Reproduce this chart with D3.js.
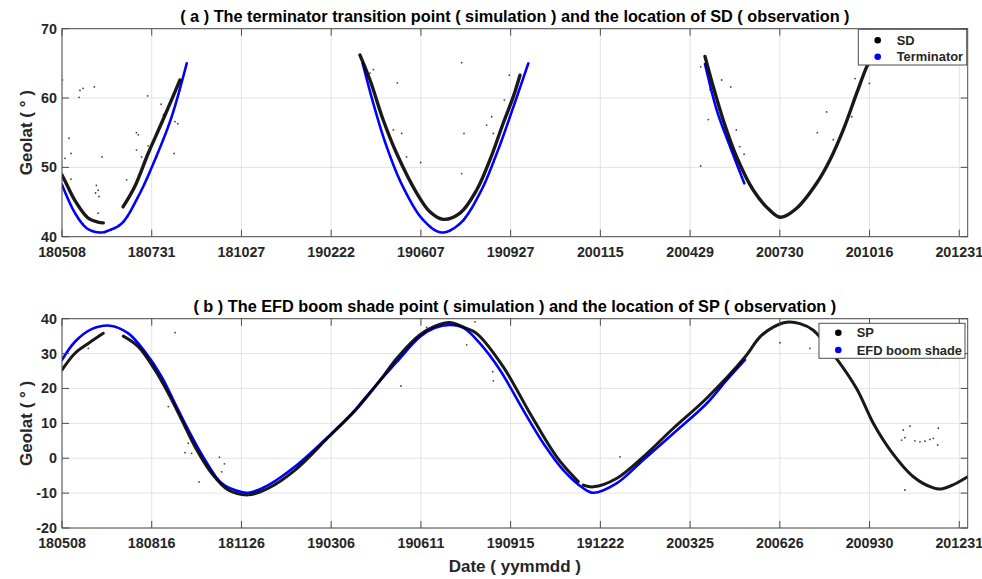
<!DOCTYPE html>
<html>
<head>
<meta charset="utf-8">
<script src="https://cdn.jsdelivr.net/npm/d3@7"></script>
<style>
  html, body { margin: 0; padding: 0; background: #fff; }
  svg { display: block; font-family: "Liberation Sans", Arial, Helvetica, sans-serif; }
</style>
</head>
<body>
<svg id="chart" width="982" height="579"></svg>
<script>
// ---- x axis: sample index, one tick every 100 samples ----
const xTicks = [0, 100, 200, 300, 400, 500, 600, 700, 800, 900, 1000];
const xTickLabelsA = ["180508","180731","181027","190222","190607","190927","200115","200429","200730","201016","201231"];
const xTickLabelsB = ["180508","180816","181126","190306","190611","190915","191222","200325","200626","200930","201231"];
const yTicksA = [40, 50, 60, 70];
const yTicksB = [-20, -10, 0, 10, 20, 30, 40];

// ---- panel (a): SD observations (dense band), in segments ----
const sdSeg1X = [0, 5, 14.5, 29, 40, 46];
const sdSeg1Y = [48.9, 47.6, 45.2, 42.7, 42.1, 42.0];
const sdSeg2X = [68, 81, 96, 111, 122, 131.5];
const sdSeg2Y = [44.3, 47.2, 52.0, 56.4, 59.7, 62.6];
const sdSeg3X = [332.1, 343.3, 358.1, 373, 395.3, 410, 425, 443.6, 462, 477, 491.8, 503, 510.4];
const sdSeg3Y = [66.2, 62.6, 56.8, 52.0, 46.3, 43.6, 42.5, 43.4, 46.7, 51.1, 56.4, 60.2, 63.3];
const sdSeg4X = [716.6, 725.9, 737, 751.9, 770.5, 789, 801, 818.8, 841, 856, 870.7, 885.7, 896.8, 903];
const sdSeg4Y = [66.0, 61.6, 56.8, 51.5, 46.7, 43.8, 42.8, 44.1, 47.7, 51.1, 55.4, 60.7, 64.5, 66.0];

// ---- panel (a): simulated terminator transition point ----
const termSeg1X = [0, 14.5, 29, 44, 52, 66.5, 85, 103.6, 122.2, 139];
const termSeg1Y = [47.5, 43.4, 41.1, 40.6, 40.9, 41.9, 45.8, 51.1, 57.3, 65.0];
const termSeg2X = [335.1, 347, 361.8, 380, 402.7, 423, 443.6, 465.8, 484.5, 503, 519.7];
const termSeg2Y = [65.0, 59.2, 53.0, 47.2, 42.4, 40.6, 41.9, 46.3, 52.0, 58.7, 65.0];
const termSeg3X = [716.6, 729.6, 744.5, 760.4];
const termSeg3Y = [64.9, 58.3, 53.0, 47.7];

// ---- panel (a): scattered SD outliers ----
const sdOutX = [0.3, 20, 19, 23.5, 36, 7.8, 10, 3.3, 44.6, 10, 38.4, 40.3, 37.4, 41.2, 40.3, 72, 83, 85, 83, 88.8, 95.5, 110.5, 113, 126, 129, 125, 105.5, 96,
  373.7, 378.6, 369.3, 384, 399.7, 445.4, 448, 445.4, 473.3, 478.9, 498.5, 480.7, 347, 343.3, 493,
  711.8, 720.3, 711.8, 745.3, 735.2, 751.5, 755.3, 760.2,
  852.2, 841.8, 859.6, 880.1, 899.8, 883.9, 722.2];
const sdOutY = [62.6, 61.1, 60.1, 61.4, 61.6, 54.2, 52.0, 51.3, 51.5, 48.3, 47.4, 46.7, 46.3, 45.8, 43.4, 48.2, 55.0, 54.7, 52.5, 51.5, 60.3, 59.1, 57.6, 56.6, 56.3, 52.0, 51.5, 53.1,
  62.2, 54.9, 55.4, 51.5, 50.7, 65.1, 54.9, 49.1, 56.1, 57.3, 63.3, 54.9, 64.1, 63.6, 59.7,
  64.5, 56.9, 50.2, 61.6, 62.6, 55.4, 53.0, 51.9,
  58.0, 55.0, 54.0, 57.3, 62.1, 62.8, 61.2];

// ---- panel (b): SP observations (dense band), in segments ----
const spSeg1X = [0, 14.5, 29.3, 46];
const spSeg1Y = [25.3, 30.1, 32.9, 35.8];
const spSeg2X = [68.3, 85, 103.6, 118.5, 133.4, 148.2, 166.8, 185.3, 207.6, 230, 259.7, 296.8, 326.5, 355, 373, 399, 415, 432, 448, 462, 491.8, 521.5, 551.3, 575.4];
const spSeg2Y = [35.0, 32.0, 25.3, 18.6, 11.0, 3.3, -4.3, -9.1, -10.5, -8.6, -3.4, 6.0, 13.6, 22.5, 28.6, 35.4, 37.8, 38.9, 37.5, 35.8, 26.2, 12.9, 0.4, -6.7];
const spSeg3X = [581, 592, 618, 647.8, 681.3, 718.5, 761.2, 777.9, 792.7, 807.6, 822.5, 837.3, 863.4, 885.7, 904.2, 922.8, 948.8, 971.1, 980, 993.4, 1009.4];
const spSeg3Y = [-7.7, -8.2, -5.8, 0.4, 8.6, 17.2, 29.0, 34.8, 37.6, 39.0, 38.6, 36.7, 28.5, 19.9, 10.0, 2.4, -5.3, -8.5, -8.8, -7.6, -5.3];

// ---- panel (b): simulated EFD boom shade point ----
const efdX = [0, 14.5, 33, 53.5, 73.9, 92.5, 111, 126, 140.8, 159.4, 178, 200, 209.5, 230, 259.7, 296.8, 326.5, 335.8, 373, 399, 415, 432.4, 448, 465.8, 488.1, 514, 536.4, 558.7, 581, 592.1, 618, 647.8, 681.3, 718.5, 740.8, 761.2];
const efdY = [28.2, 33.4, 37.0, 38.0, 35.8, 30.5, 23.4, 15.7, 8.1, -0.5, -7.2, -9.7, -9.8, -7.7, -2.4, 6.2, 13.8, 16.7, 27.6, 34.8, 37.3, 38.2, 37.3, 32.9, 25.3, 13.8, 4.3, -3.4, -8.6, -9.9, -7.2, -0.5, 7.1, 15.7, 22.4, 28.2];

// ---- panel (b): scattered SP outliers ----
const spOutX = [937.6, 945, 939.4, 935.7, 950.6, 956.2, 961.7, 967.3, 971.1, 976.6, 976, 939.4, 800.1, 833.5,
  460.3, 451, 480, 480.7, 377.8, 621.9, 406.4, 126, 29.3, 118.5, 140.8, 137.1, 144.5, 152.7, 175.5, 181, 178];
const spOutY = [8.1, 9.2, 5.9, 5.2, 5.0, 4.7, 4.9, 5.4, 5.7, 8.6, 3.8, -9.1, 33.1, 31.5,
  39.1, 32.5, 24.8, 22.2, 20.7, 0.4, 37.5, 36.0, 31.5, 14.8, 4.3, 1.6, 1.4, -6.8, 0.3, -1.6, -3.9];

// ---- legend entries ----
const legendA = [{ name: "SD", color: "#000000" }, { name: "Terminator", color: "#0000ff" }];
const legendB = [{ name: "SP", color: "#000000" }, { name: "EFD boom shade", color: "#0000ff" }];

const svg = d3.select("#chart");
const textColor = "#262626";
const gridColor = "#e3e3e3";
const boxColor = "#4d4d4d";

const plotLeft = 62, plotRight = 967.7;
const x = d3.scaleLinear().domain([0, 1009.4]).range([plotLeft, plotRight]);

function zipXY(xs, ys) { return xs.map((v, i) => [v, ys[i]]); }

function drawPanel(cfg) {
  const { top, bottom, yDomain, yTicks, tickLabels, title, clipId } = cfg;
  const y = d3.scaleLinear().domain(yDomain).range([bottom, top]);
  const g = svg.append("g");

  g.append("clipPath").attr("id", clipId)
    .append("rect").attr("x", plotLeft).attr("y", top)
    .attr("width", plotRight - plotLeft).attr("height", bottom - top);

  // background grid
  g.append("g").selectAll("line").data(xTicks).join("line")
    .attr("x1", d => x(d)).attr("x2", d => x(d))
    .attr("y1", top).attr("y2", bottom)
    .attr("stroke", gridColor).attr("stroke-width", 1);
  g.append("g").selectAll("line").data(yTicks).join("line")
    .attr("x1", plotLeft).attr("x2", plotRight)
    .attr("y1", d => y(d)).attr("y2", d => y(d))
    .attr("stroke", gridColor).attr("stroke-width", 1);

  const data = g.append("g").attr("clip-path", `url(#${clipId})`);
  const line = d3.line().x(d => x(d[0])).y(d => y(d[1])).curve(d3.curveCatmullRom.alpha(0.5));

  // observation outliers
  data.append("g").selectAll("circle").data(cfg.outliers).join("circle")
    .attr("cx", d => x(d[0])).attr("cy", d => y(d[1])).attr("r", 0.9)
    .attr("fill", "#444");

  // simulation (blue)
  cfg.simSegs.forEach(seg => {
    data.append("path").attr("d", line(seg))
      .attr("fill", "none").attr("stroke", "#0000ff")
      .attr("stroke-width", cfg.simWidth)
      .attr("stroke-dasharray", cfg.simDash || null)
      .attr("stroke-linecap", "round");
  });

  // observation band (black)
  cfg.obsSegs.forEach(seg => {
    data.append("path").attr("d", line(seg))
      .attr("fill", "none").attr("stroke", "#000")
      .attr("stroke-opacity", 0.9)
      .attr("stroke-width", cfg.obsWidth)
      .attr("stroke-linecap", "round");
  });

  // axes box
  g.append("rect").attr("x", plotLeft).attr("y", top)
    .attr("width", plotRight - plotLeft).attr("height", bottom - top)
    .attr("fill", "none").attr("stroke", boxColor).attr("stroke-width", 1);

  // inward ticks on all four sides
  const tl = 7;
  const ticks = g.append("g").attr("stroke", boxColor).attr("stroke-width", 1);
  xTicks.forEach(t => {
    ticks.append("line").attr("x1", x(t)).attr("x2", x(t)).attr("y1", bottom).attr("y2", bottom - tl);
    ticks.append("line").attr("x1", x(t)).attr("x2", x(t)).attr("y1", top).attr("y2", top + tl);
  });
  yTicks.forEach(t => {
    ticks.append("line").attr("x1", plotLeft).attr("x2", plotLeft + tl).attr("y1", y(t)).attr("y2", y(t));
    ticks.append("line").attr("x1", plotRight).attr("x2", plotRight - tl).attr("y1", y(t)).attr("y2", y(t));
  });

  // tick labels
  g.append("g").selectAll("text").data(xTicks).join("text")
    .attr("x", d => x(d)).attr("y", bottom + 20)
    .attr("text-anchor", "middle").attr("font-size", 14.3).attr("font-weight", "bold")
    .attr("fill", textColor).text((d, i) => tickLabels[i]);
  g.append("g").selectAll("text").data(yTicks).join("text")
    .attr("x", plotLeft - 5).attr("y", d => y(d) + 5)
    .attr("text-anchor", "end").attr("font-size", 14.3).attr("font-weight", "bold")
    .attr("fill", textColor).text(d => d);

  // y axis label
  g.append("text")
    .attr("transform", `translate(32,${(top + bottom) / 2}) rotate(-90)`)
    .attr("text-anchor", "middle").attr("font-size", 17).attr("font-weight", "bold")
    .attr("fill", textColor).text("Geolat ( ° )");

  // title
  g.append("text").attr("x", (plotLeft + plotRight) / 2).attr("y", top - 7)
    .attr("text-anchor", "middle").attr("font-size", 16.3).attr("font-weight", "bold")
    .attr("fill", "#000").text(title);

  // legend
  const lg = g.append("g");
  const L = cfg.legend;
  lg.append("rect").attr("x", L.x0).attr("y", L.y0).attr("width", L.x1 - L.x0).attr("height", L.y1 - L.y0)
    .attr("fill", "#fff").attr("stroke", boxColor).attr("stroke-width", 1);
  L.items.forEach((it, i) => {
    const cy = L.y0 + L.rowStart + i * L.rowGap;
    lg.append("circle").attr("cx", L.markerX).attr("cy", cy).attr("r", 3.3).attr("fill", it.color);
    lg.append("text").attr("x", L.textX).attr("y", cy + 4.5)
      .attr("font-size", 12.9).attr("font-weight", "bold").attr("fill", textColor).text(it.name);
  });
  return y;
}

drawPanel({
  top: 28.7, bottom: 236.7, yDomain: [40, 70], yTicks: yTicksA, tickLabels: xTickLabelsA,
  title: "( a ) The terminator transition point ( simulation ) and the location of SD ( observation )",
  clipId: "clipA",
  outliers: zipXY(sdOutX, sdOutY),
  simSegs: [zipXY(termSeg1X, termSeg1Y), zipXY(termSeg2X, termSeg2Y), zipXY(termSeg3X, termSeg3Y)],
  simWidth: 2.6, simDash: "2.2,0.9",
  obsSegs: [zipXY(sdSeg1X, sdSeg1Y), zipXY(sdSeg2X, sdSeg2Y), zipXY(sdSeg3X, sdSeg3Y), zipXY(sdSeg4X, sdSeg4Y)],
  obsWidth: 3.4,
  legend: { x0: 858.3, x1: 966.7, y0: 29.3, y1: 65, rowStart: 11, rowGap: 16.5, markerX: 877.7, textX: 896.7, items: legendA }
});

drawPanel({
  top: 318.7, bottom: 528, yDomain: [-20, 40], yTicks: yTicksB, tickLabels: xTickLabelsB,
  title: "( b ) The EFD boom shade point ( simulation ) and the location of SP ( observation )",
  clipId: "clipB",
  outliers: zipXY(spOutX, spOutY),
  simSegs: [zipXY(efdX, efdY)],
  simWidth: 2.6,
  obsSegs: [zipXY(spSeg1X, spSeg1Y), zipXY(spSeg2X, spSeg2Y), zipXY(spSeg3X, spSeg3Y)],
  obsWidth: 3.0,
  legend: { x0: 819, x1: 965, y0: 323.3, y1: 358.3, rowStart: 9.4, rowGap: 17.3, markerX: 838.3, textX: 856.7, items: legendB }
});

// shared x axis label
svg.append("text").attr("x", (plotLeft + plotRight) / 2).attr("y", 572)
  .attr("text-anchor", "middle").attr("font-size", 17).attr("font-weight", "bold")
  .attr("fill", textColor).text("Date ( yymmdd )");
</script>
</body>
</html>
